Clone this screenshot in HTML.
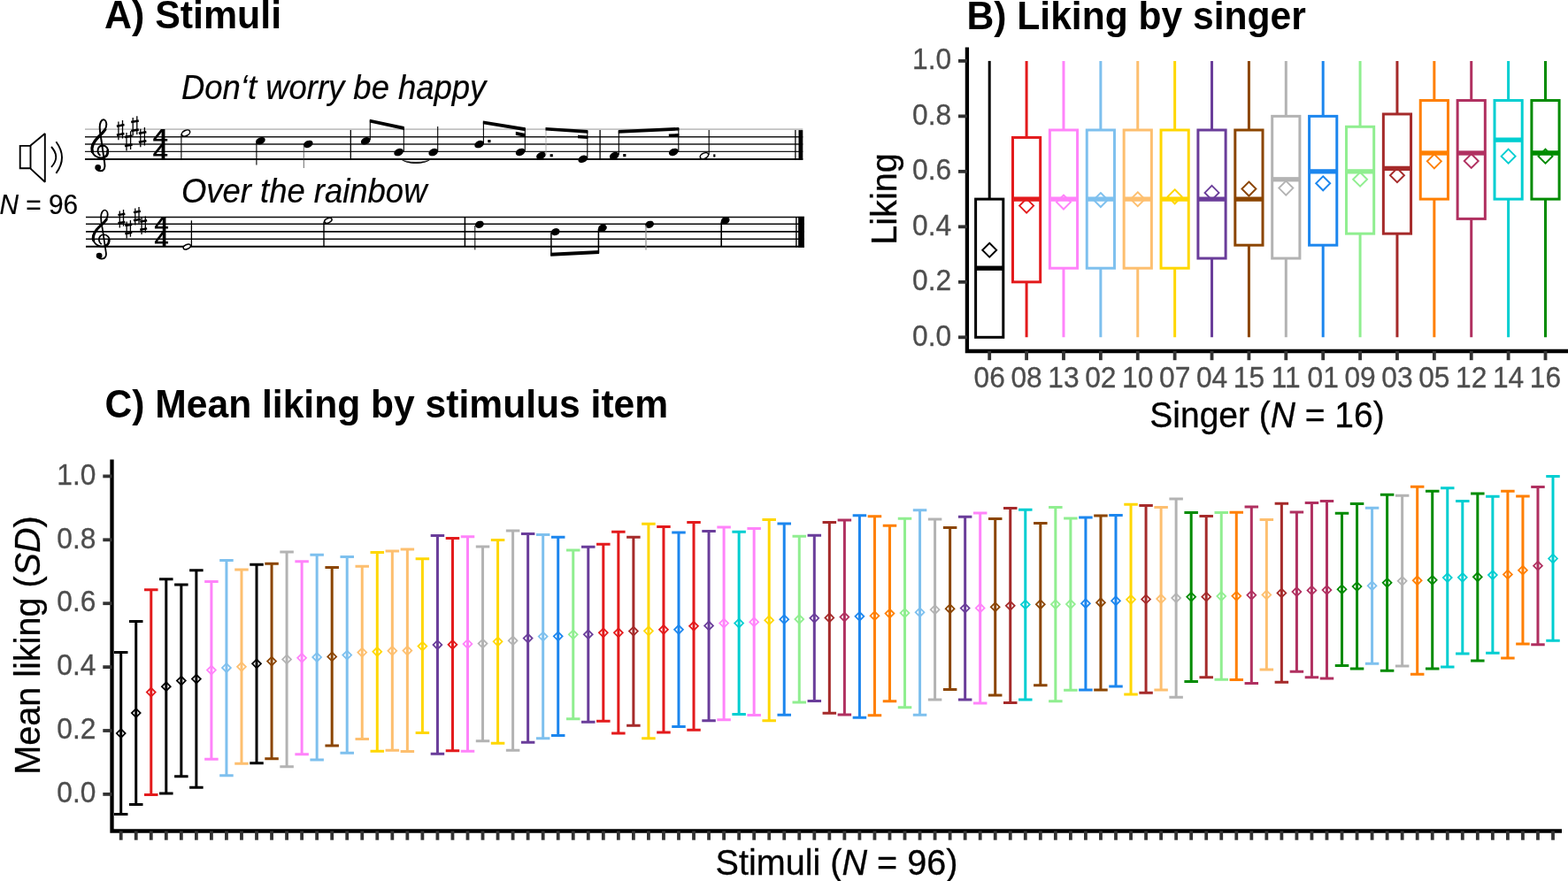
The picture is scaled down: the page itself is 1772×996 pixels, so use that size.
<!DOCTYPE html>
<html lang="en">
<head>
<meta charset="utf-8">
<title>Stimuli and liking ratings</title>
<style>
html,body{margin:0;padding:0;background:#fff;}
body{width:1772px;height:996px;overflow:hidden;}
svg{display:block;}
svg text{font-family:"Liberation Sans", Arial, Helvetica, sans-serif;}
</style>
</head>
<body>
<svg width="1772" height="996" viewBox="0 0 1772 996">
<rect width="1772" height="996" fill="#fff"/>
<g id="panelC">
<path d="M128.95 737.39H144.45M136.70 737.39V920.38M128.95 920.38H144.45" stroke="#000000" stroke-width="3.0" fill="none"/>
<path d="M136.70 824.19L141.60 829.09L136.70 833.99L131.80 829.09Z" stroke="#000000" stroke-width="1.8" fill="none"/>
<path d="M145.98 702.39H161.48M153.73 702.39V909.40M145.98 909.40H161.48" stroke="#000000" stroke-width="3.0" fill="none"/>
<path d="M153.73 801.21L158.63 806.11L153.73 811.01L148.83 806.11Z" stroke="#000000" stroke-width="1.8" fill="none"/>
<path d="M163.02 666.63H178.52M170.77 666.63V898.41M163.02 898.41H178.52" stroke="#E31A1C" stroke-width="3.0" fill="none"/>
<path d="M170.77 777.64L175.67 782.54L170.77 787.44L165.87 782.54Z" stroke="#E31A1C" stroke-width="1.8" fill="none"/>
<path d="M180.05 654.65H195.55M187.80 654.65V897.01M180.05 897.01H195.55" stroke="#000000" stroke-width="3.0" fill="none"/>
<path d="M187.80 771.25L192.70 776.15L187.80 781.05L182.90 776.15Z" stroke="#000000" stroke-width="1.8" fill="none"/>
<path d="M197.09 661.04H212.59M204.84 661.04V877.63M197.09 877.63H212.59" stroke="#000000" stroke-width="3.0" fill="none"/>
<path d="M204.84 764.65L209.74 769.55L204.84 774.45L199.94 769.55Z" stroke="#000000" stroke-width="1.8" fill="none"/>
<path d="M214.12 644.66H229.62M221.87 644.66V890.22M214.12 890.22H229.62" stroke="#000000" stroke-width="3.0" fill="none"/>
<path d="M221.87 762.66L226.77 767.56L221.87 772.46L216.97 767.56Z" stroke="#000000" stroke-width="1.8" fill="none"/>
<path d="M231.16 657.44H246.66M238.91 657.44V858.25M231.16 858.25H246.66" stroke="#FF83FA" stroke-width="3.0" fill="none"/>
<path d="M238.91 752.67L243.81 757.57L238.91 762.47L234.01 757.57Z" stroke="#FF83FA" stroke-width="1.8" fill="none"/>
<path d="M248.19 633.47H263.69M255.94 633.47V876.83M248.19 876.83H263.69" stroke="#7EC0EE" stroke-width="3.0" fill="none"/>
<path d="M255.94 750.07L260.84 754.97L255.94 759.87L251.04 754.97Z" stroke="#7EC0EE" stroke-width="1.8" fill="none"/>
<path d="M265.23 644.06H280.73M272.98 644.06V863.25M265.23 863.25H280.73" stroke="#FDBF6F" stroke-width="3.0" fill="none"/>
<path d="M272.98 748.87L277.88 753.77L272.98 758.67L268.08 753.77Z" stroke="#FDBF6F" stroke-width="1.8" fill="none"/>
<path d="M282.26 638.27H297.76M290.01 638.27V862.85M282.26 862.85H297.76" stroke="#000000" stroke-width="3.0" fill="none"/>
<path d="M290.01 745.47L294.91 750.37L290.01 755.27L285.11 750.37Z" stroke="#000000" stroke-width="1.8" fill="none"/>
<path d="M299.30 637.27H314.80M307.05 637.27V857.65M299.30 857.65H314.80" stroke="#8B4500" stroke-width="3.0" fill="none"/>
<path d="M307.05 742.68L311.95 747.58L307.05 752.48L302.15 747.58Z" stroke="#8B4500" stroke-width="1.8" fill="none"/>
<path d="M316.33 623.88H331.83M324.08 623.88V866.84M316.33 866.84H331.83" stroke="#B3B3B3" stroke-width="3.0" fill="none"/>
<path d="M324.08 740.48L328.98 745.38L324.08 750.28L319.18 745.38Z" stroke="#B3B3B3" stroke-width="1.8" fill="none"/>
<path d="M333.37 634.87H348.87M341.12 634.87V852.86M333.37 852.86H348.87" stroke="#FF83FA" stroke-width="3.0" fill="none"/>
<path d="M341.12 738.88L346.02 743.78L341.12 748.68L336.22 743.78Z" stroke="#FF83FA" stroke-width="1.8" fill="none"/>
<path d="M350.40 627.28H365.90M358.15 627.28V859.05M350.40 859.05H365.90" stroke="#7EC0EE" stroke-width="3.0" fill="none"/>
<path d="M358.15 738.08L363.05 742.98L358.15 747.88L353.25 742.98Z" stroke="#7EC0EE" stroke-width="1.8" fill="none"/>
<path d="M367.44 641.46H382.94M375.19 641.46V843.07M367.44 843.07H382.94" stroke="#8B4500" stroke-width="3.0" fill="none"/>
<path d="M375.19 737.48L380.09 742.38L375.19 747.28L370.29 742.38Z" stroke="#8B4500" stroke-width="1.8" fill="none"/>
<path d="M384.47 629.48H399.97M392.22 629.48V851.26M384.47 851.26H399.97" stroke="#7EC0EE" stroke-width="3.0" fill="none"/>
<path d="M392.22 735.69L397.12 740.59L392.22 745.49L387.32 740.59Z" stroke="#7EC0EE" stroke-width="1.8" fill="none"/>
<path d="M401.51 640.26H417.01M409.26 640.26V835.48M401.51 835.48H417.01" stroke="#FDBF6F" stroke-width="3.0" fill="none"/>
<path d="M409.26 732.69L414.16 737.59L409.26 742.49L404.36 737.59Z" stroke="#FDBF6F" stroke-width="1.8" fill="none"/>
<path d="M418.54 624.48H434.04M426.29 624.48V849.26M418.54 849.26H434.04" stroke="#FFD700" stroke-width="3.0" fill="none"/>
<path d="M426.29 731.89L431.19 736.79L426.29 741.69L421.39 736.79Z" stroke="#FFD700" stroke-width="1.8" fill="none"/>
<path d="M435.58 623.08H451.08M443.33 623.08V848.26M435.58 848.26H451.08" stroke="#FDBF6F" stroke-width="3.0" fill="none"/>
<path d="M443.33 730.89L448.23 735.79L443.33 740.69L438.43 735.79Z" stroke="#FDBF6F" stroke-width="1.8" fill="none"/>
<path d="M452.61 620.89H468.11M460.36 620.89V849.42M452.61 849.42H468.11" stroke="#FDBF6F" stroke-width="3.0" fill="none"/>
<path d="M460.36 730.65L465.26 735.55L460.36 740.45L455.46 735.55Z" stroke="#FDBF6F" stroke-width="1.8" fill="none"/>
<path d="M469.64 631.87H485.14M477.39 631.87V828.44M469.64 828.44H485.14" stroke="#FFD700" stroke-width="3.0" fill="none"/>
<path d="M477.39 725.65L482.29 730.55L477.39 735.45L472.49 730.55Z" stroke="#FFD700" stroke-width="1.8" fill="none"/>
<path d="M486.68 605.50H502.18M494.43 605.50V852.22M486.68 852.22H502.18" stroke="#6A3D9A" stroke-width="3.0" fill="none"/>
<path d="M494.43 724.06L499.33 728.96L494.43 733.86L489.53 728.96Z" stroke="#6A3D9A" stroke-width="1.8" fill="none"/>
<path d="M503.71 608.50H519.21M511.46 608.50V848.82M503.71 848.82H519.21" stroke="#E31A1C" stroke-width="3.0" fill="none"/>
<path d="M511.46 723.86L516.36 728.76L511.46 733.66L506.56 728.76Z" stroke="#E31A1C" stroke-width="1.8" fill="none"/>
<path d="M520.75 606.70H536.25M528.50 606.70V849.22M520.75 849.22H536.25" stroke="#FF83FA" stroke-width="3.0" fill="none"/>
<path d="M528.50 723.06L533.40 727.96L528.50 732.86L523.60 727.96Z" stroke="#FF83FA" stroke-width="1.8" fill="none"/>
<path d="M537.78 617.89H553.28M545.53 617.89V837.83M537.78 837.83H553.28" stroke="#B3B3B3" stroke-width="3.0" fill="none"/>
<path d="M545.53 722.66L550.43 727.56L545.53 732.46L540.63 727.56Z" stroke="#B3B3B3" stroke-width="1.8" fill="none"/>
<path d="M554.82 610.50H570.32M562.57 610.50V840.23M554.82 840.23H570.32" stroke="#FFD700" stroke-width="3.0" fill="none"/>
<path d="M562.57 720.46L567.47 725.36L562.57 730.26L557.67 725.36Z" stroke="#FFD700" stroke-width="1.8" fill="none"/>
<path d="M571.85 599.91H587.35M579.60 599.91V848.22M571.85 848.22H587.35" stroke="#B3B3B3" stroke-width="3.0" fill="none"/>
<path d="M579.60 719.46L584.50 724.36L579.60 729.26L574.70 724.36Z" stroke="#B3B3B3" stroke-width="1.8" fill="none"/>
<path d="M588.89 603.51H604.39M596.64 603.51V839.23M588.89 839.23H604.39" stroke="#6A3D9A" stroke-width="3.0" fill="none"/>
<path d="M596.64 716.66L601.54 721.56L596.64 726.46L591.74 721.56Z" stroke="#6A3D9A" stroke-width="1.8" fill="none"/>
<path d="M605.92 604.50H621.42M613.67 604.50V834.84M605.92 834.84H621.42" stroke="#7EC0EE" stroke-width="3.0" fill="none"/>
<path d="M613.67 714.67L618.57 719.57L613.67 724.47L608.77 719.57Z" stroke="#7EC0EE" stroke-width="1.8" fill="none"/>
<path d="M622.96 607.30H638.46M630.71 607.30V831.44M622.96 831.44H638.46" stroke="#1C86EE" stroke-width="3.0" fill="none"/>
<path d="M630.71 714.47L635.61 719.37L630.71 724.27L625.81 719.37Z" stroke="#1C86EE" stroke-width="1.8" fill="none"/>
<path d="M639.99 622.08H655.49M647.74 622.08V812.66M639.99 812.66H655.49" stroke="#90EE90" stroke-width="3.0" fill="none"/>
<path d="M647.74 712.47L652.64 717.37L647.74 722.27L642.84 717.37Z" stroke="#90EE90" stroke-width="1.8" fill="none"/>
<path d="M657.03 618.29H672.53M664.78 618.29V816.26M657.03 816.26H672.53" stroke="#6A3D9A" stroke-width="3.0" fill="none"/>
<path d="M664.78 712.27L669.68 717.17L664.78 722.07L659.88 717.17Z" stroke="#6A3D9A" stroke-width="1.8" fill="none"/>
<path d="M674.06 615.29H689.56M681.81 615.29V815.26M674.06 815.26H689.56" stroke="#E31A1C" stroke-width="3.0" fill="none"/>
<path d="M681.81 710.47L686.71 715.37L681.81 720.27L676.91 715.37Z" stroke="#E31A1C" stroke-width="1.8" fill="none"/>
<path d="M691.10 601.31H706.60M698.85 601.31V829.04M691.10 829.04H706.60" stroke="#E31A1C" stroke-width="3.0" fill="none"/>
<path d="M698.85 710.47L703.75 715.37L698.85 720.27L693.95 715.37Z" stroke="#E31A1C" stroke-width="1.8" fill="none"/>
<path d="M708.13 607.30H723.63M715.88 607.30V820.25M708.13 820.25H723.63" stroke="#A52A2A" stroke-width="3.0" fill="none"/>
<path d="M715.88 708.67L720.78 713.57L715.88 718.47L710.98 713.57Z" stroke="#A52A2A" stroke-width="1.8" fill="none"/>
<path d="M725.17 592.32H740.67M732.92 592.32V834.84M725.17 834.84H740.67" stroke="#FFD700" stroke-width="3.0" fill="none"/>
<path d="M732.92 708.47L737.82 713.37L732.92 718.27L728.02 713.37Z" stroke="#FFD700" stroke-width="1.8" fill="none"/>
<path d="M742.20 595.51H757.70M749.95 595.51V828.04M742.20 828.04H757.70" stroke="#E31A1C" stroke-width="3.0" fill="none"/>
<path d="M749.95 706.88L754.85 711.78L749.95 716.68L745.05 711.78Z" stroke="#E31A1C" stroke-width="1.8" fill="none"/>
<path d="M759.24 601.91H774.74M766.99 601.91V821.45M759.24 821.45H774.74" stroke="#1C86EE" stroke-width="3.0" fill="none"/>
<path d="M766.99 706.88L771.89 711.78L766.99 716.68L762.09 711.78Z" stroke="#1C86EE" stroke-width="1.8" fill="none"/>
<path d="M776.27 590.52H791.77M784.02 590.52V825.25M776.27 825.25H791.77" stroke="#E31A1C" stroke-width="3.0" fill="none"/>
<path d="M784.02 702.89L788.92 707.79L784.02 712.69L779.12 707.79Z" stroke="#E31A1C" stroke-width="1.8" fill="none"/>
<path d="M793.30 600.51H808.80M801.05 600.51V814.86M793.30 814.86H808.80" stroke="#6A3D9A" stroke-width="3.0" fill="none"/>
<path d="M801.05 702.49L805.95 707.39L801.05 712.29L796.15 707.39Z" stroke="#6A3D9A" stroke-width="1.8" fill="none"/>
<path d="M810.34 595.91H825.84M818.09 595.91V813.66M810.34 813.66H825.84" stroke="#FF83FA" stroke-width="3.0" fill="none"/>
<path d="M818.09 699.69L822.99 704.59L818.09 709.49L813.19 704.59Z" stroke="#FF83FA" stroke-width="1.8" fill="none"/>
<path d="M827.37 601.31H842.87M835.12 601.31V807.47M827.37 807.47H842.87" stroke="#00CED1" stroke-width="3.0" fill="none"/>
<path d="M835.12 699.69L840.02 704.59L835.12 709.49L830.22 704.59Z" stroke="#00CED1" stroke-width="1.8" fill="none"/>
<path d="M844.41 597.51H859.91M852.16 597.51V808.47M844.41 808.47H859.91" stroke="#FF83FA" stroke-width="3.0" fill="none"/>
<path d="M852.16 698.29L857.06 703.19L852.16 708.09L847.26 703.19Z" stroke="#FF83FA" stroke-width="1.8" fill="none"/>
<path d="M861.44 587.52H876.94M869.19 587.52V814.66M861.44 814.66H876.94" stroke="#FFD700" stroke-width="3.0" fill="none"/>
<path d="M869.19 696.30L874.09 701.20L869.19 706.10L864.29 701.20Z" stroke="#FFD700" stroke-width="1.8" fill="none"/>
<path d="M878.48 591.92H893.98M886.23 591.92V808.27M878.48 808.27H893.98" stroke="#1C86EE" stroke-width="3.0" fill="none"/>
<path d="M886.23 695.30L891.13 700.20L886.23 705.10L881.33 700.20Z" stroke="#1C86EE" stroke-width="1.8" fill="none"/>
<path d="M895.51 606.30H911.01M903.26 606.30V794.08M895.51 794.08H911.01" stroke="#90EE90" stroke-width="3.0" fill="none"/>
<path d="M903.26 695.10L908.16 700.00L903.26 704.90L898.36 700.00Z" stroke="#90EE90" stroke-width="1.8" fill="none"/>
<path d="M912.55 605.30H928.05M920.30 605.30V792.48M912.55 792.48H928.05" stroke="#6A3D9A" stroke-width="3.0" fill="none"/>
<path d="M920.30 693.90L925.20 698.80L920.30 703.70L915.40 698.80Z" stroke="#6A3D9A" stroke-width="1.8" fill="none"/>
<path d="M929.58 590.52H945.08M937.33 590.52V806.27M929.58 806.27H945.08" stroke="#A52A2A" stroke-width="3.0" fill="none"/>
<path d="M937.33 693.50L942.23 698.40L937.33 703.30L932.43 698.40Z" stroke="#A52A2A" stroke-width="1.8" fill="none"/>
<path d="M946.62 588.12H962.12M954.37 588.12V808.07M946.62 808.07H962.12" stroke="#B03060" stroke-width="3.0" fill="none"/>
<path d="M954.37 692.70L959.27 697.60L954.37 702.50L949.47 697.60Z" stroke="#B03060" stroke-width="1.8" fill="none"/>
<path d="M963.65 582.73H979.15M971.40 582.73V811.26M963.65 811.26H979.15" stroke="#1C86EE" stroke-width="3.0" fill="none"/>
<path d="M971.40 691.90L976.30 696.80L971.40 701.70L966.50 696.80Z" stroke="#1C86EE" stroke-width="1.8" fill="none"/>
<path d="M980.69 583.73H996.19M988.44 583.73V808.87M980.69 808.87H996.19" stroke="#FF7F00" stroke-width="3.0" fill="none"/>
<path d="M988.44 691.30L993.34 696.20L988.44 701.10L983.54 696.20Z" stroke="#FF7F00" stroke-width="1.8" fill="none"/>
<path d="M997.72 594.32H1013.22M1005.47 594.32V792.68M997.72 792.68H1013.22" stroke="#FF7F00" stroke-width="3.0" fill="none"/>
<path d="M1005.47 688.70L1010.37 693.60L1005.47 698.50L1000.57 693.60Z" stroke="#FF7F00" stroke-width="1.8" fill="none"/>
<path d="M1014.76 586.33H1030.26M1022.51 586.33V799.68M1014.76 799.68H1030.26" stroke="#90EE90" stroke-width="3.0" fill="none"/>
<path d="M1022.51 688.10L1027.41 693.00L1022.51 697.90L1017.61 693.00Z" stroke="#90EE90" stroke-width="1.8" fill="none"/>
<path d="M1031.79 576.74H1047.29M1039.54 576.74V808.27M1031.79 808.27H1047.29" stroke="#7EC0EE" stroke-width="3.0" fill="none"/>
<path d="M1039.54 687.31L1044.44 692.21L1039.54 697.11L1034.64 692.21Z" stroke="#7EC0EE" stroke-width="1.8" fill="none"/>
<path d="M1048.83 586.92H1064.33M1056.58 586.92V790.89M1048.83 790.89H1064.33" stroke="#B3B3B3" stroke-width="3.0" fill="none"/>
<path d="M1056.58 684.31L1061.48 689.21L1056.58 694.11L1051.68 689.21Z" stroke="#B3B3B3" stroke-width="1.8" fill="none"/>
<path d="M1065.86 596.51H1081.36M1073.61 596.51V779.50M1065.86 779.50H1081.36" stroke="#8B4500" stroke-width="3.0" fill="none"/>
<path d="M1073.61 683.31L1078.51 688.21L1073.61 693.11L1068.71 688.21Z" stroke="#8B4500" stroke-width="1.8" fill="none"/>
<path d="M1082.90 584.33H1098.40M1090.65 584.33V791.09M1082.90 791.09H1098.40" stroke="#6A3D9A" stroke-width="3.0" fill="none"/>
<path d="M1090.65 682.71L1095.55 687.61L1090.65 692.51L1085.75 687.61Z" stroke="#6A3D9A" stroke-width="1.8" fill="none"/>
<path d="M1099.93 579.93H1115.43M1107.68 579.93V795.08M1099.93 795.08H1115.43" stroke="#FF83FA" stroke-width="3.0" fill="none"/>
<path d="M1107.68 682.51L1112.58 687.41L1107.68 692.31L1102.78 687.41Z" stroke="#FF83FA" stroke-width="1.8" fill="none"/>
<path d="M1116.96 586.52H1132.46M1124.71 586.52V786.09M1116.96 786.09H1132.46" stroke="#8B4500" stroke-width="3.0" fill="none"/>
<path d="M1124.71 681.31L1129.61 686.21L1124.71 691.11L1119.81 686.21Z" stroke="#8B4500" stroke-width="1.8" fill="none"/>
<path d="M1134.00 574.54H1149.50M1141.75 574.54V794.48M1134.00 794.48H1149.50" stroke="#A52A2A" stroke-width="3.0" fill="none"/>
<path d="M1141.75 679.91L1146.65 684.81L1141.75 689.71L1136.85 684.81Z" stroke="#A52A2A" stroke-width="1.8" fill="none"/>
<path d="M1151.03 576.34H1166.53M1158.78 576.34V790.89M1151.03 790.89H1166.53" stroke="#00CED1" stroke-width="3.0" fill="none"/>
<path d="M1158.78 678.52L1163.68 683.42L1158.78 688.32L1153.88 683.42Z" stroke="#00CED1" stroke-width="1.8" fill="none"/>
<path d="M1168.07 591.52H1183.57M1175.82 591.52V774.70M1168.07 774.70H1183.57" stroke="#8B4500" stroke-width="3.0" fill="none"/>
<path d="M1175.82 678.32L1180.72 683.22L1175.82 688.12L1170.92 683.22Z" stroke="#8B4500" stroke-width="1.8" fill="none"/>
<path d="M1185.10 573.54H1200.60M1192.85 573.54V792.68M1185.10 792.68H1200.60" stroke="#90EE90" stroke-width="3.0" fill="none"/>
<path d="M1192.85 678.32L1197.75 683.22L1192.85 688.12L1187.95 683.22Z" stroke="#90EE90" stroke-width="1.8" fill="none"/>
<path d="M1202.14 585.93H1217.64M1209.89 585.93V780.30M1202.14 780.30H1217.64" stroke="#90EE90" stroke-width="3.0" fill="none"/>
<path d="M1209.89 678.12L1214.79 683.02L1209.89 687.92L1204.99 683.02Z" stroke="#90EE90" stroke-width="1.8" fill="none"/>
<path d="M1219.17 584.93H1234.67M1226.92 584.93V780.10M1219.17 780.10H1234.67" stroke="#1C86EE" stroke-width="3.0" fill="none"/>
<path d="M1226.92 677.32L1231.82 682.22L1226.92 687.12L1222.02 682.22Z" stroke="#1C86EE" stroke-width="1.8" fill="none"/>
<path d="M1236.21 582.93H1251.71M1243.96 582.93V780.10M1236.21 780.10H1251.71" stroke="#8B4500" stroke-width="3.0" fill="none"/>
<path d="M1243.96 676.32L1248.86 681.22L1243.96 686.12L1239.06 681.22Z" stroke="#8B4500" stroke-width="1.8" fill="none"/>
<path d="M1253.24 582.53H1268.74M1260.99 582.53V775.90M1253.24 775.90H1268.74" stroke="#1C86EE" stroke-width="3.0" fill="none"/>
<path d="M1260.99 674.32L1265.89 679.22L1260.99 684.12L1256.09 679.22Z" stroke="#1C86EE" stroke-width="1.8" fill="none"/>
<path d="M1270.28 570.34H1285.78M1278.03 570.34V785.09M1270.28 785.09H1285.78" stroke="#FFD700" stroke-width="3.0" fill="none"/>
<path d="M1278.03 672.92L1282.93 677.82L1278.03 682.72L1273.13 677.82Z" stroke="#FFD700" stroke-width="1.8" fill="none"/>
<path d="M1287.31 571.54H1302.81M1295.06 571.54V783.29M1287.31 783.29H1302.81" stroke="#A52A2A" stroke-width="3.0" fill="none"/>
<path d="M1295.06 672.52L1299.96 677.42L1295.06 682.32L1290.16 677.42Z" stroke="#A52A2A" stroke-width="1.8" fill="none"/>
<path d="M1304.35 573.54H1319.85M1312.10 573.54V780.10M1304.35 780.10H1319.85" stroke="#FDBF6F" stroke-width="3.0" fill="none"/>
<path d="M1312.10 672.12L1317.00 677.02L1312.10 681.92L1307.20 677.02Z" stroke="#FDBF6F" stroke-width="1.8" fill="none"/>
<path d="M1321.38 563.95H1336.88M1329.13 563.95V788.29M1321.38 788.29H1336.88" stroke="#B3B3B3" stroke-width="3.0" fill="none"/>
<path d="M1329.13 671.12L1334.03 676.02L1329.13 680.92L1324.23 676.02Z" stroke="#B3B3B3" stroke-width="1.8" fill="none"/>
<path d="M1338.42 579.53H1353.92M1346.17 579.53V770.51M1338.42 770.51H1353.92" stroke="#008B00" stroke-width="3.0" fill="none"/>
<path d="M1346.17 669.93L1351.07 674.83L1346.17 679.73L1341.27 674.83Z" stroke="#008B00" stroke-width="1.8" fill="none"/>
<path d="M1355.45 583.53H1370.95M1363.20 583.53V765.71M1355.45 765.71H1370.95" stroke="#A52A2A" stroke-width="3.0" fill="none"/>
<path d="M1363.20 669.73L1368.10 674.63L1363.20 679.53L1358.30 674.63Z" stroke="#A52A2A" stroke-width="1.8" fill="none"/>
<path d="M1372.49 579.53H1387.99M1380.24 579.53V768.31M1372.49 768.31H1387.99" stroke="#90EE90" stroke-width="3.0" fill="none"/>
<path d="M1380.24 669.13L1385.14 674.03L1380.24 678.93L1375.34 674.03Z" stroke="#90EE90" stroke-width="1.8" fill="none"/>
<path d="M1389.52 579.33H1405.02M1397.27 579.33V768.51M1389.52 768.51H1405.02" stroke="#FF7F00" stroke-width="3.0" fill="none"/>
<path d="M1397.27 668.93L1402.17 673.83L1397.27 678.73L1392.37 673.83Z" stroke="#FF7F00" stroke-width="1.8" fill="none"/>
<path d="M1406.56 572.94H1422.06M1414.31 572.94V772.51M1406.56 772.51H1422.06" stroke="#B03060" stroke-width="3.0" fill="none"/>
<path d="M1414.31 667.93L1419.21 672.83L1414.31 677.73L1409.41 672.83Z" stroke="#B03060" stroke-width="1.8" fill="none"/>
<path d="M1423.59 587.52H1439.09M1431.34 587.52V757.12M1423.59 757.12H1439.09" stroke="#FDBF6F" stroke-width="3.0" fill="none"/>
<path d="M1431.34 667.53L1436.24 672.43L1431.34 677.33L1426.44 672.43Z" stroke="#FDBF6F" stroke-width="1.8" fill="none"/>
<path d="M1440.62 569.34H1456.12M1448.37 569.34V771.25M1440.62 771.25H1456.12" stroke="#A52A2A" stroke-width="3.0" fill="none"/>
<path d="M1448.37 665.53L1453.27 670.43L1448.37 675.33L1443.47 670.43Z" stroke="#A52A2A" stroke-width="1.8" fill="none"/>
<path d="M1457.66 578.93H1473.16M1465.41 578.93V759.27M1457.66 759.27H1473.16" stroke="#B03060" stroke-width="3.0" fill="none"/>
<path d="M1465.41 664.13L1470.31 669.03L1465.41 673.93L1460.51 669.03Z" stroke="#B03060" stroke-width="1.8" fill="none"/>
<path d="M1474.69 568.55H1490.19M1482.44 568.55V765.86M1474.69 765.86H1490.19" stroke="#B03060" stroke-width="3.0" fill="none"/>
<path d="M1482.44 662.53L1487.34 667.43L1482.44 672.33L1477.54 667.43Z" stroke="#B03060" stroke-width="1.8" fill="none"/>
<path d="M1491.73 566.55H1507.23M1499.48 566.55V767.06M1491.73 767.06H1507.23" stroke="#B03060" stroke-width="3.0" fill="none"/>
<path d="M1499.48 662.13L1504.38 667.03L1499.48 671.93L1494.58 667.03Z" stroke="#B03060" stroke-width="1.8" fill="none"/>
<path d="M1508.76 580.13H1524.26M1516.51 580.13V752.47M1508.76 752.47H1524.26" stroke="#008B00" stroke-width="3.0" fill="none"/>
<path d="M1516.51 661.33L1521.41 666.23L1516.51 671.13L1511.61 666.23Z" stroke="#008B00" stroke-width="1.8" fill="none"/>
<path d="M1525.80 569.54H1541.30M1533.55 569.54V756.07M1525.80 756.07H1541.30" stroke="#008B00" stroke-width="3.0" fill="none"/>
<path d="M1533.55 658.14L1538.45 663.04L1533.55 667.94L1528.65 663.04Z" stroke="#008B00" stroke-width="1.8" fill="none"/>
<path d="M1542.83 574.14H1558.33M1550.58 574.14V750.28M1542.83 750.28H1558.33" stroke="#7EC0EE" stroke-width="3.0" fill="none"/>
<path d="M1550.58 657.34L1555.48 662.24L1550.58 667.14L1545.68 662.24Z" stroke="#7EC0EE" stroke-width="1.8" fill="none"/>
<path d="M1559.87 559.16H1575.37M1567.62 559.16V758.27M1559.87 758.27H1575.37" stroke="#008B00" stroke-width="3.0" fill="none"/>
<path d="M1567.62 653.94L1572.52 658.84L1567.62 663.74L1562.72 658.84Z" stroke="#008B00" stroke-width="1.8" fill="none"/>
<path d="M1576.90 560.15H1592.40M1584.65 560.15V753.07M1576.90 753.07H1592.40" stroke="#B3B3B3" stroke-width="3.0" fill="none"/>
<path d="M1584.65 651.95L1589.55 656.85L1584.65 661.75L1579.75 656.85Z" stroke="#B3B3B3" stroke-width="1.8" fill="none"/>
<path d="M1593.94 550.17H1609.44M1601.69 550.17V762.26M1593.94 762.26H1609.44" stroke="#FF7F00" stroke-width="3.0" fill="none"/>
<path d="M1601.69 651.35L1606.59 656.25L1601.69 661.15L1596.79 656.25Z" stroke="#FF7F00" stroke-width="1.8" fill="none"/>
<path d="M1610.97 555.36H1626.47M1618.72 555.36V756.07M1610.97 756.07H1626.47" stroke="#008B00" stroke-width="3.0" fill="none"/>
<path d="M1618.72 650.95L1623.62 655.85L1618.72 660.75L1613.82 655.85Z" stroke="#008B00" stroke-width="1.8" fill="none"/>
<path d="M1628.01 551.76H1643.51M1635.76 551.76V754.07M1628.01 754.07H1643.51" stroke="#00CED1" stroke-width="3.0" fill="none"/>
<path d="M1635.76 648.15L1640.66 653.05L1635.76 657.95L1630.86 653.05Z" stroke="#00CED1" stroke-width="1.8" fill="none"/>
<path d="M1645.04 566.55H1660.54M1652.79 566.55V739.09M1645.04 739.09H1660.54" stroke="#00CED1" stroke-width="3.0" fill="none"/>
<path d="M1652.79 647.95L1657.69 652.85L1652.79 657.75L1647.89 652.85Z" stroke="#00CED1" stroke-width="1.8" fill="none"/>
<path d="M1662.08 557.96H1677.58M1669.83 557.96V747.08M1662.08 747.08H1677.58" stroke="#008B00" stroke-width="3.0" fill="none"/>
<path d="M1669.83 647.35L1674.73 652.25L1669.83 657.15L1664.93 652.25Z" stroke="#008B00" stroke-width="1.8" fill="none"/>
<path d="M1679.11 561.35H1694.61M1686.86 561.35V738.29M1679.11 738.29H1694.61" stroke="#00CED1" stroke-width="3.0" fill="none"/>
<path d="M1686.86 645.15L1691.76 650.05L1686.86 654.95L1681.96 650.05Z" stroke="#00CED1" stroke-width="1.8" fill="none"/>
<path d="M1696.15 555.16H1711.65M1703.90 555.16V744.08M1696.15 744.08H1711.65" stroke="#FF7F00" stroke-width="3.0" fill="none"/>
<path d="M1703.90 644.55L1708.80 649.45L1703.90 654.35L1699.00 649.45Z" stroke="#FF7F00" stroke-width="1.8" fill="none"/>
<path d="M1713.18 560.95H1728.68M1720.93 560.95V728.10M1713.18 728.10H1728.68" stroke="#FF7F00" stroke-width="3.0" fill="none"/>
<path d="M1720.93 639.76L1725.83 644.66L1720.93 649.56L1716.03 644.66Z" stroke="#FF7F00" stroke-width="1.8" fill="none"/>
<path d="M1730.22 550.57H1745.72M1737.97 550.57V728.70M1730.22 728.70H1745.72" stroke="#B03060" stroke-width="3.0" fill="none"/>
<path d="M1737.97 634.76L1742.87 639.66L1737.97 644.56L1733.07 639.66Z" stroke="#B03060" stroke-width="1.8" fill="none"/>
<path d="M1747.25 538.58H1762.75M1755.00 538.58V724.30M1747.25 724.30H1762.75" stroke="#00CED1" stroke-width="3.0" fill="none"/>
<path d="M1755.00 626.57L1759.90 631.47L1755.00 636.37L1750.10 631.47Z" stroke="#00CED1" stroke-width="1.8" fill="none"/>
<path d="M126.5 519.6V941.65M124.35 939.5H1765" stroke="#000" stroke-width="4.3" fill="none"/>
<path d="M116.3 897.90H126.50" stroke="#333" stroke-width="3.8"/>
<text transform="translate(108.4 907.1) scale(1 1.04)" text-anchor="end" font-size="31.7" fill="#4D4D4D" stroke="#4D4D4D" stroke-width="0.3">0.0</text>
<path d="M116.3 826.00H126.50" stroke="#333" stroke-width="3.8"/>
<text transform="translate(108.4 835.2) scale(1 1.04)" text-anchor="end" font-size="31.7" fill="#4D4D4D" stroke="#4D4D4D" stroke-width="0.3">0.2</text>
<path d="M116.3 754.10H126.50" stroke="#333" stroke-width="3.8"/>
<text transform="translate(108.4 763.3) scale(1 1.04)" text-anchor="end" font-size="31.7" fill="#4D4D4D" stroke="#4D4D4D" stroke-width="0.3">0.4</text>
<path d="M116.3 682.20H126.50" stroke="#333" stroke-width="3.8"/>
<text transform="translate(108.4 691.4) scale(1 1.04)" text-anchor="end" font-size="31.7" fill="#4D4D4D" stroke="#4D4D4D" stroke-width="0.3">0.6</text>
<path d="M116.3 610.30H126.50" stroke="#333" stroke-width="3.8"/>
<text transform="translate(108.4 619.5) scale(1 1.04)" text-anchor="end" font-size="31.7" fill="#4D4D4D" stroke="#4D4D4D" stroke-width="0.3">0.8</text>
<path d="M116.3 538.40H126.50" stroke="#333" stroke-width="3.8"/>
<text transform="translate(108.4 547.6) scale(1 1.04)" text-anchor="end" font-size="31.7" fill="#4D4D4D" stroke="#4D4D4D" stroke-width="0.3">1.0</text>
<path d="M136.70 939.50V949.7" stroke="#333" stroke-width="3.8"/>
<path d="M153.73 939.50V949.7" stroke="#333" stroke-width="3.8"/>
<path d="M170.77 939.50V949.7" stroke="#333" stroke-width="3.8"/>
<path d="M187.80 939.50V949.7" stroke="#333" stroke-width="3.8"/>
<path d="M204.84 939.50V949.7" stroke="#333" stroke-width="3.8"/>
<path d="M221.87 939.50V949.7" stroke="#333" stroke-width="3.8"/>
<path d="M238.91 939.50V949.7" stroke="#333" stroke-width="3.8"/>
<path d="M255.94 939.50V949.7" stroke="#333" stroke-width="3.8"/>
<path d="M272.98 939.50V949.7" stroke="#333" stroke-width="3.8"/>
<path d="M290.01 939.50V949.7" stroke="#333" stroke-width="3.8"/>
<path d="M307.05 939.50V949.7" stroke="#333" stroke-width="3.8"/>
<path d="M324.08 939.50V949.7" stroke="#333" stroke-width="3.8"/>
<path d="M341.12 939.50V949.7" stroke="#333" stroke-width="3.8"/>
<path d="M358.15 939.50V949.7" stroke="#333" stroke-width="3.8"/>
<path d="M375.19 939.50V949.7" stroke="#333" stroke-width="3.8"/>
<path d="M392.22 939.50V949.7" stroke="#333" stroke-width="3.8"/>
<path d="M409.26 939.50V949.7" stroke="#333" stroke-width="3.8"/>
<path d="M426.29 939.50V949.7" stroke="#333" stroke-width="3.8"/>
<path d="M443.33 939.50V949.7" stroke="#333" stroke-width="3.8"/>
<path d="M460.36 939.50V949.7" stroke="#333" stroke-width="3.8"/>
<path d="M477.39 939.50V949.7" stroke="#333" stroke-width="3.8"/>
<path d="M494.43 939.50V949.7" stroke="#333" stroke-width="3.8"/>
<path d="M511.46 939.50V949.7" stroke="#333" stroke-width="3.8"/>
<path d="M528.50 939.50V949.7" stroke="#333" stroke-width="3.8"/>
<path d="M545.53 939.50V949.7" stroke="#333" stroke-width="3.8"/>
<path d="M562.57 939.50V949.7" stroke="#333" stroke-width="3.8"/>
<path d="M579.60 939.50V949.7" stroke="#333" stroke-width="3.8"/>
<path d="M596.64 939.50V949.7" stroke="#333" stroke-width="3.8"/>
<path d="M613.67 939.50V949.7" stroke="#333" stroke-width="3.8"/>
<path d="M630.71 939.50V949.7" stroke="#333" stroke-width="3.8"/>
<path d="M647.74 939.50V949.7" stroke="#333" stroke-width="3.8"/>
<path d="M664.78 939.50V949.7" stroke="#333" stroke-width="3.8"/>
<path d="M681.81 939.50V949.7" stroke="#333" stroke-width="3.8"/>
<path d="M698.85 939.50V949.7" stroke="#333" stroke-width="3.8"/>
<path d="M715.88 939.50V949.7" stroke="#333" stroke-width="3.8"/>
<path d="M732.92 939.50V949.7" stroke="#333" stroke-width="3.8"/>
<path d="M749.95 939.50V949.7" stroke="#333" stroke-width="3.8"/>
<path d="M766.99 939.50V949.7" stroke="#333" stroke-width="3.8"/>
<path d="M784.02 939.50V949.7" stroke="#333" stroke-width="3.8"/>
<path d="M801.05 939.50V949.7" stroke="#333" stroke-width="3.8"/>
<path d="M818.09 939.50V949.7" stroke="#333" stroke-width="3.8"/>
<path d="M835.12 939.50V949.7" stroke="#333" stroke-width="3.8"/>
<path d="M852.16 939.50V949.7" stroke="#333" stroke-width="3.8"/>
<path d="M869.19 939.50V949.7" stroke="#333" stroke-width="3.8"/>
<path d="M886.23 939.50V949.7" stroke="#333" stroke-width="3.8"/>
<path d="M903.26 939.50V949.7" stroke="#333" stroke-width="3.8"/>
<path d="M920.30 939.50V949.7" stroke="#333" stroke-width="3.8"/>
<path d="M937.33 939.50V949.7" stroke="#333" stroke-width="3.8"/>
<path d="M954.37 939.50V949.7" stroke="#333" stroke-width="3.8"/>
<path d="M971.40 939.50V949.7" stroke="#333" stroke-width="3.8"/>
<path d="M988.44 939.50V949.7" stroke="#333" stroke-width="3.8"/>
<path d="M1005.47 939.50V949.7" stroke="#333" stroke-width="3.8"/>
<path d="M1022.51 939.50V949.7" stroke="#333" stroke-width="3.8"/>
<path d="M1039.54 939.50V949.7" stroke="#333" stroke-width="3.8"/>
<path d="M1056.58 939.50V949.7" stroke="#333" stroke-width="3.8"/>
<path d="M1073.61 939.50V949.7" stroke="#333" stroke-width="3.8"/>
<path d="M1090.65 939.50V949.7" stroke="#333" stroke-width="3.8"/>
<path d="M1107.68 939.50V949.7" stroke="#333" stroke-width="3.8"/>
<path d="M1124.71 939.50V949.7" stroke="#333" stroke-width="3.8"/>
<path d="M1141.75 939.50V949.7" stroke="#333" stroke-width="3.8"/>
<path d="M1158.78 939.50V949.7" stroke="#333" stroke-width="3.8"/>
<path d="M1175.82 939.50V949.7" stroke="#333" stroke-width="3.8"/>
<path d="M1192.85 939.50V949.7" stroke="#333" stroke-width="3.8"/>
<path d="M1209.89 939.50V949.7" stroke="#333" stroke-width="3.8"/>
<path d="M1226.92 939.50V949.7" stroke="#333" stroke-width="3.8"/>
<path d="M1243.96 939.50V949.7" stroke="#333" stroke-width="3.8"/>
<path d="M1260.99 939.50V949.7" stroke="#333" stroke-width="3.8"/>
<path d="M1278.03 939.50V949.7" stroke="#333" stroke-width="3.8"/>
<path d="M1295.06 939.50V949.7" stroke="#333" stroke-width="3.8"/>
<path d="M1312.10 939.50V949.7" stroke="#333" stroke-width="3.8"/>
<path d="M1329.13 939.50V949.7" stroke="#333" stroke-width="3.8"/>
<path d="M1346.17 939.50V949.7" stroke="#333" stroke-width="3.8"/>
<path d="M1363.20 939.50V949.7" stroke="#333" stroke-width="3.8"/>
<path d="M1380.24 939.50V949.7" stroke="#333" stroke-width="3.8"/>
<path d="M1397.27 939.50V949.7" stroke="#333" stroke-width="3.8"/>
<path d="M1414.31 939.50V949.7" stroke="#333" stroke-width="3.8"/>
<path d="M1431.34 939.50V949.7" stroke="#333" stroke-width="3.8"/>
<path d="M1448.37 939.50V949.7" stroke="#333" stroke-width="3.8"/>
<path d="M1465.41 939.50V949.7" stroke="#333" stroke-width="3.8"/>
<path d="M1482.44 939.50V949.7" stroke="#333" stroke-width="3.8"/>
<path d="M1499.48 939.50V949.7" stroke="#333" stroke-width="3.8"/>
<path d="M1516.51 939.50V949.7" stroke="#333" stroke-width="3.8"/>
<path d="M1533.55 939.50V949.7" stroke="#333" stroke-width="3.8"/>
<path d="M1550.58 939.50V949.7" stroke="#333" stroke-width="3.8"/>
<path d="M1567.62 939.50V949.7" stroke="#333" stroke-width="3.8"/>
<path d="M1584.65 939.50V949.7" stroke="#333" stroke-width="3.8"/>
<path d="M1601.69 939.50V949.7" stroke="#333" stroke-width="3.8"/>
<path d="M1618.72 939.50V949.7" stroke="#333" stroke-width="3.8"/>
<path d="M1635.76 939.50V949.7" stroke="#333" stroke-width="3.8"/>
<path d="M1652.79 939.50V949.7" stroke="#333" stroke-width="3.8"/>
<path d="M1669.83 939.50V949.7" stroke="#333" stroke-width="3.8"/>
<path d="M1686.86 939.50V949.7" stroke="#333" stroke-width="3.8"/>
<path d="M1703.90 939.50V949.7" stroke="#333" stroke-width="3.8"/>
<path d="M1720.93 939.50V949.7" stroke="#333" stroke-width="3.8"/>
<path d="M1737.97 939.50V949.7" stroke="#333" stroke-width="3.8"/>
<path d="M1755.00 939.50V949.7" stroke="#333" stroke-width="3.8"/>
<text transform="translate(945.5 988.8) scale(1 1.04)" text-anchor="middle" font-size="39.6" fill="#000" stroke="#000" stroke-width="0.3">Stimuli (<tspan font-style="italic">N</tspan> = 96)</text>
<text transform="translate(45.0 729.5) rotate(-90) scale(1 1.04)" text-anchor="middle" font-size="39.6" fill="#000" stroke="#000" stroke-width="0.3">Mean liking (<tspan font-style="italic">SD</tspan>)</text>
<text transform="translate(118.5 471.8) scale(1 1.04)" font-size="42.6" font-weight="bold" fill="#000">C) Mean liking by stimulus item</text>
</g>
<g id="panelB">
<path d="M1118.20 274.74l8.0 8.0l-8.0 8.0l-8.0 -8.0Z" stroke="#000000" stroke-width="1.9" fill="none"/>
<path d="M1118.20 68.90V225.10M1118.20 381.30V381.30" stroke="#000000" stroke-width="3.0" fill="none"/>
<rect x="1102.60" y="225.10" width="31.2" height="156.20" stroke="#000000" stroke-width="3.0" fill="none"/>
<path d="M1102.60 303.20H1133.80" stroke="#000000" stroke-width="5.3" fill="none"/>
<text transform="translate(1118.2 437.5) scale(1 1.04)" text-anchor="middle" font-size="31.7" fill="#4D4D4D" stroke="#4D4D4D" stroke-width="0.3">06</text>
<path d="M1160.09 224.60l8.0 8.0l-8.0 8.0l-8.0 -8.0Z" stroke="#E31A1C" stroke-width="1.9" fill="none"/>
<path d="M1160.09 68.90V155.43M1160.09 318.82V381.30" stroke="#E31A1C" stroke-width="3.0" fill="none"/>
<rect x="1144.49" y="155.43" width="31.2" height="163.39" stroke="#E31A1C" stroke-width="3.0" fill="none"/>
<path d="M1144.49 225.10H1175.69" stroke="#E31A1C" stroke-width="5.3" fill="none"/>
<text transform="translate(1160.09 437.5) scale(1 1.04)" text-anchor="middle" font-size="31.7" fill="#4D4D4D" stroke="#4D4D4D" stroke-width="0.3">08</text>
<path d="M1201.97 220.54l8.0 8.0l-8.0 8.0l-8.0 -8.0Z" stroke="#FF83FA" stroke-width="1.9" fill="none"/>
<path d="M1201.97 68.90V147.00M1201.97 303.20V381.30" stroke="#FF83FA" stroke-width="3.0" fill="none"/>
<rect x="1186.37" y="147.00" width="31.2" height="156.20" stroke="#FF83FA" stroke-width="3.0" fill="none"/>
<path d="M1186.37 225.10H1217.57" stroke="#FF83FA" stroke-width="5.3" fill="none"/>
<text transform="translate(1201.97 437.5) scale(1 1.04)" text-anchor="middle" font-size="31.7" fill="#4D4D4D" stroke="#4D4D4D" stroke-width="0.3">13</text>
<path d="M1243.86 218.04l8.0 8.0l-8.0 8.0l-8.0 -8.0Z" stroke="#7EC0EE" stroke-width="1.9" fill="none"/>
<path d="M1243.86 68.90V147.00M1243.86 303.20V381.30" stroke="#7EC0EE" stroke-width="3.0" fill="none"/>
<rect x="1228.26" y="147.00" width="31.2" height="156.20" stroke="#7EC0EE" stroke-width="3.0" fill="none"/>
<path d="M1228.26 225.10H1259.46" stroke="#7EC0EE" stroke-width="5.3" fill="none"/>
<text transform="translate(1243.86 437.5) scale(1 1.04)" text-anchor="middle" font-size="31.7" fill="#4D4D4D" stroke="#4D4D4D" stroke-width="0.3">02</text>
<path d="M1285.75 217.26l8.0 8.0l-8.0 8.0l-8.0 -8.0Z" stroke="#FDBF6F" stroke-width="1.9" fill="none"/>
<path d="M1285.75 68.90V147.00M1285.75 303.20V381.30" stroke="#FDBF6F" stroke-width="3.0" fill="none"/>
<rect x="1270.15" y="147.00" width="31.2" height="156.20" stroke="#FDBF6F" stroke-width="3.0" fill="none"/>
<path d="M1270.15 225.10H1301.35" stroke="#FDBF6F" stroke-width="5.3" fill="none"/>
<text transform="translate(1285.75 437.5) scale(1 1.04)" text-anchor="middle" font-size="31.7" fill="#4D4D4D" stroke="#4D4D4D" stroke-width="0.3">10</text>
<path d="M1327.63 214.29l8.0 8.0l-8.0 8.0l-8.0 -8.0Z" stroke="#FFD700" stroke-width="1.9" fill="none"/>
<path d="M1327.63 68.90V147.00M1327.63 303.20V381.30" stroke="#FFD700" stroke-width="3.0" fill="none"/>
<rect x="1312.03" y="147.00" width="31.2" height="156.20" stroke="#FFD700" stroke-width="3.0" fill="none"/>
<path d="M1312.03 225.10H1343.23" stroke="#FFD700" stroke-width="5.3" fill="none"/>
<text transform="translate(1327.63 437.5) scale(1 1.04)" text-anchor="middle" font-size="31.7" fill="#4D4D4D" stroke="#4D4D4D" stroke-width="0.3">07</text>
<path d="M1369.52 209.91l8.0 8.0l-8.0 8.0l-8.0 -8.0Z" stroke="#6A3D9A" stroke-width="1.9" fill="none"/>
<path d="M1369.52 68.90V147.00M1369.52 292.05V381.30" stroke="#6A3D9A" stroke-width="3.0" fill="none"/>
<rect x="1353.92" y="147.00" width="31.2" height="145.05" stroke="#6A3D9A" stroke-width="3.0" fill="none"/>
<path d="M1353.92 225.10H1385.12" stroke="#6A3D9A" stroke-width="5.3" fill="none"/>
<text transform="translate(1369.52 437.5) scale(1 1.04)" text-anchor="middle" font-size="31.7" fill="#4D4D4D" stroke="#4D4D4D" stroke-width="0.3">04</text>
<path d="M1411.41 205.54l8.0 8.0l-8.0 8.0l-8.0 -8.0Z" stroke="#8B4500" stroke-width="1.9" fill="none"/>
<path d="M1411.41 68.90V147.00M1411.41 277.18V381.30" stroke="#8B4500" stroke-width="3.0" fill="none"/>
<rect x="1395.81" y="147.00" width="31.2" height="130.18" stroke="#8B4500" stroke-width="3.0" fill="none"/>
<path d="M1395.81 225.10H1427.01" stroke="#8B4500" stroke-width="5.3" fill="none"/>
<text transform="translate(1411.41 437.5) scale(1 1.04)" text-anchor="middle" font-size="31.7" fill="#4D4D4D" stroke="#4D4D4D" stroke-width="0.3">15</text>
<path d="M1453.29 204.60l8.0 8.0l-8.0 8.0l-8.0 -8.0Z" stroke="#B3B3B3" stroke-width="1.9" fill="none"/>
<path d="M1453.29 68.90V131.38M1453.29 292.05V381.30" stroke="#B3B3B3" stroke-width="3.0" fill="none"/>
<rect x="1437.69" y="131.38" width="31.2" height="160.67" stroke="#B3B3B3" stroke-width="3.0" fill="none"/>
<path d="M1437.69 202.79H1468.89" stroke="#B3B3B3" stroke-width="5.3" fill="none"/>
<text transform="translate(1453.29 437.5) scale(1 1.04)" text-anchor="middle" font-size="31.7" fill="#4D4D4D" stroke="#4D4D4D" stroke-width="0.3">11</text>
<path d="M1495.18 199.29l8.0 8.0l-8.0 8.0l-8.0 -8.0Z" stroke="#1C86EE" stroke-width="1.9" fill="none"/>
<path d="M1495.18 68.90V131.38M1495.18 277.18V381.30" stroke="#1C86EE" stroke-width="3.0" fill="none"/>
<rect x="1479.58" y="131.38" width="31.2" height="145.80" stroke="#1C86EE" stroke-width="3.0" fill="none"/>
<path d="M1479.58 193.86H1510.78" stroke="#1C86EE" stroke-width="5.3" fill="none"/>
<text transform="translate(1495.18 437.5) scale(1 1.04)" text-anchor="middle" font-size="31.7" fill="#4D4D4D" stroke="#4D4D4D" stroke-width="0.3">01</text>
<path d="M1537.07 194.76l8.0 8.0l-8.0 8.0l-8.0 -8.0Z" stroke="#90EE90" stroke-width="1.9" fill="none"/>
<path d="M1537.07 68.90V143.28M1537.07 264.15V381.30" stroke="#90EE90" stroke-width="3.0" fill="none"/>
<rect x="1521.47" y="143.28" width="31.2" height="120.87" stroke="#90EE90" stroke-width="3.0" fill="none"/>
<path d="M1521.47 193.86H1552.67" stroke="#90EE90" stroke-width="5.3" fill="none"/>
<text transform="translate(1537.07 437.5) scale(1 1.04)" text-anchor="middle" font-size="31.7" fill="#4D4D4D" stroke="#4D4D4D" stroke-width="0.3">09</text>
<path d="M1578.95 190.23l8.0 8.0l-8.0 8.0l-8.0 -8.0Z" stroke="#A52A2A" stroke-width="1.9" fill="none"/>
<path d="M1578.95 68.90V128.97M1578.95 264.15V381.30" stroke="#A52A2A" stroke-width="3.0" fill="none"/>
<rect x="1563.35" y="128.97" width="31.2" height="135.18" stroke="#A52A2A" stroke-width="3.0" fill="none"/>
<path d="M1563.35 190.39H1594.55" stroke="#A52A2A" stroke-width="5.3" fill="none"/>
<text transform="translate(1578.95 437.5) scale(1 1.04)" text-anchor="middle" font-size="31.7" fill="#4D4D4D" stroke="#4D4D4D" stroke-width="0.3">03</text>
<path d="M1620.84 174.30l8.0 8.0l-8.0 8.0l-8.0 -8.0Z" stroke="#FF7F00" stroke-width="1.9" fill="none"/>
<path d="M1620.84 68.90V113.54M1620.84 225.10V381.30" stroke="#FF7F00" stroke-width="3.0" fill="none"/>
<rect x="1605.24" y="113.54" width="31.2" height="111.56" stroke="#FF7F00" stroke-width="3.0" fill="none"/>
<path d="M1605.24 173.02H1636.44" stroke="#FF7F00" stroke-width="5.3" fill="none"/>
<text transform="translate(1620.84 437.5) scale(1 1.04)" text-anchor="middle" font-size="31.7" fill="#4D4D4D" stroke="#4D4D4D" stroke-width="0.3">05</text>
<path d="M1662.73 173.99l8.0 8.0l-8.0 8.0l-8.0 -8.0Z" stroke="#B03060" stroke-width="1.9" fill="none"/>
<path d="M1662.73 68.90V113.54M1662.73 247.41V381.30" stroke="#B03060" stroke-width="3.0" fill="none"/>
<rect x="1647.13" y="113.54" width="31.2" height="133.86" stroke="#B03060" stroke-width="3.0" fill="none"/>
<path d="M1647.13 173.02H1678.33" stroke="#B03060" stroke-width="5.3" fill="none"/>
<text transform="translate(1662.73 437.5) scale(1 1.04)" text-anchor="middle" font-size="31.7" fill="#4D4D4D" stroke="#4D4D4D" stroke-width="0.3">12</text>
<path d="M1704.61 168.68l8.0 8.0l-8.0 8.0l-8.0 -8.0Z" stroke="#00CED1" stroke-width="1.9" fill="none"/>
<path d="M1704.61 68.90V113.54M1704.61 225.10V381.30" stroke="#00CED1" stroke-width="3.0" fill="none"/>
<rect x="1689.01" y="113.54" width="31.2" height="111.56" stroke="#00CED1" stroke-width="3.0" fill="none"/>
<path d="M1689.01 158.15H1720.21" stroke="#00CED1" stroke-width="5.3" fill="none"/>
<text transform="translate(1704.61 437.5) scale(1 1.04)" text-anchor="middle" font-size="31.7" fill="#4D4D4D" stroke="#4D4D4D" stroke-width="0.3">14</text>
<path d="M1746.50 168.68l8.0 8.0l-8.0 8.0l-8.0 -8.0Z" stroke="#008B00" stroke-width="1.9" fill="none"/>
<path d="M1746.50 68.90V113.54M1746.50 225.10V381.30" stroke="#008B00" stroke-width="3.0" fill="none"/>
<rect x="1730.90" y="113.54" width="31.2" height="111.56" stroke="#008B00" stroke-width="3.0" fill="none"/>
<path d="M1730.90 173.02H1762.10" stroke="#008B00" stroke-width="5.3" fill="none"/>
<text transform="translate(1746.5 437.5) scale(1 1.04)" text-anchor="middle" font-size="31.7" fill="#4D4D4D" stroke="#4D4D4D" stroke-width="0.3">16</text>
<path d="M1092.9 53.5V399.15M1090.75 397.0H1772" stroke="#000" stroke-width="4.3" fill="none"/>
<path d="M1118.20 397.00V407.2" stroke="#333" stroke-width="3.8"/>
<path d="M1160.09 397.00V407.2" stroke="#333" stroke-width="3.8"/>
<path d="M1201.97 397.00V407.2" stroke="#333" stroke-width="3.8"/>
<path d="M1243.86 397.00V407.2" stroke="#333" stroke-width="3.8"/>
<path d="M1285.75 397.00V407.2" stroke="#333" stroke-width="3.8"/>
<path d="M1327.63 397.00V407.2" stroke="#333" stroke-width="3.8"/>
<path d="M1369.52 397.00V407.2" stroke="#333" stroke-width="3.8"/>
<path d="M1411.41 397.00V407.2" stroke="#333" stroke-width="3.8"/>
<path d="M1453.29 397.00V407.2" stroke="#333" stroke-width="3.8"/>
<path d="M1495.18 397.00V407.2" stroke="#333" stroke-width="3.8"/>
<path d="M1537.07 397.00V407.2" stroke="#333" stroke-width="3.8"/>
<path d="M1578.95 397.00V407.2" stroke="#333" stroke-width="3.8"/>
<path d="M1620.84 397.00V407.2" stroke="#333" stroke-width="3.8"/>
<path d="M1662.73 397.00V407.2" stroke="#333" stroke-width="3.8"/>
<path d="M1704.61 397.00V407.2" stroke="#333" stroke-width="3.8"/>
<path d="M1746.50 397.00V407.2" stroke="#333" stroke-width="3.8"/>
<path d="M1083.0 381.30H1092.90" stroke="#333" stroke-width="3.8"/>
<text transform="translate(1075.1 390.5) scale(1 1.04)" text-anchor="end" font-size="31.7" fill="#4D4D4D" stroke="#4D4D4D" stroke-width="0.3">0.0</text>
<path d="M1083.0 318.82H1092.90" stroke="#333" stroke-width="3.8"/>
<text transform="translate(1075.1 328.02) scale(1 1.04)" text-anchor="end" font-size="31.7" fill="#4D4D4D" stroke="#4D4D4D" stroke-width="0.3">0.2</text>
<path d="M1083.0 256.34H1092.90" stroke="#333" stroke-width="3.8"/>
<text transform="translate(1075.1 265.54) scale(1 1.04)" text-anchor="end" font-size="31.7" fill="#4D4D4D" stroke="#4D4D4D" stroke-width="0.3">0.4</text>
<path d="M1083.0 193.86H1092.90" stroke="#333" stroke-width="3.8"/>
<text transform="translate(1075.1 203.06) scale(1 1.04)" text-anchor="end" font-size="31.7" fill="#4D4D4D" stroke="#4D4D4D" stroke-width="0.3">0.6</text>
<path d="M1083.0 131.38H1092.90" stroke="#333" stroke-width="3.8"/>
<text transform="translate(1075.1 140.58) scale(1 1.04)" text-anchor="end" font-size="31.7" fill="#4D4D4D" stroke="#4D4D4D" stroke-width="0.3">0.8</text>
<path d="M1083.0 68.90H1092.90" stroke="#333" stroke-width="3.8"/>
<text transform="translate(1075.1 78.1) scale(1 1.04)" text-anchor="end" font-size="31.7" fill="#4D4D4D" stroke="#4D4D4D" stroke-width="0.3">1.0</text>
<text transform="translate(1432 482.8) scale(1 1.04)" text-anchor="middle" font-size="39.0" fill="#000" stroke="#000" stroke-width="0.3">Singer (<tspan font-style="italic">N</tspan> = 16)</text>
<text transform="translate(1013.0 225) rotate(-90) scale(1 1.04)" text-anchor="middle" font-size="39.6" fill="#000" stroke="#000" stroke-width="0.3">Liking</text>
<text transform="translate(1092.5 33.0) scale(1 1.04)" font-size="42.6" font-weight="bold" fill="#000">B) Liking by singer</text>
</g>
<g id="panelA">
<text transform="translate(118 31.6) scale(1 1.04)" font-size="42.9" font-weight="bold" fill="#000">A) Stimuli</text>
<text transform="translate(205 111.9) scale(1 1.04)" font-size="36.45" font-style="italic" fill="#000" stroke="#000" stroke-width="0.2">Don‘t worry be happy</text>
<text transform="translate(205 228.9) scale(1 1.04)" font-size="36.45" font-style="italic" fill="#000" stroke="#000" stroke-width="0.2">Over the rainbow</text>
<text transform="translate(-0.5 241.8) scale(1 1.04)" font-size="29.8" fill="#000" stroke="#000" stroke-width="0.2"><tspan font-style="italic">N</tspan> = 96</text>
<g stroke="#000" stroke-width="1.9" fill="none" stroke-linejoin="miter"><path d="M22.7 164.9H34.5V190.3H22.7Z"/><path d="M34.5 164.6L50.8 150.9V205.7L34.5 190.6" stroke-linejoin="bevel"/><path d="M58 166Q68.6 177.5 58 188.8"/><path d="M63.4 160.3Q76.6 178 63.4 195.9"/></g>
<path d="M96 146.2H907.3" stroke="#C2C2C2" stroke-width="1.8"/>
<path d="M96 154.7H907.3" stroke="#1a1a1a" stroke-width="1.4"/>
<path d="M96 163.0H907.3" stroke="#1a1a1a" stroke-width="1.4"/>
<path d="M96 171.4H907.3" stroke="#1a1a1a" stroke-width="1.4"/>
<path d="M96 179.9H907.3" stroke="#0a0a0a" stroke-width="2.0"/>
<g transform="translate(0 0) translate(0 193) scale(1 1.0) translate(0 -193)" fill="none" stroke="#000" stroke-linecap="round" stroke-linejoin="round"><path d="M112.8 175.4C110.2 173.6 109.6 169 111.8 166.3C114 163.6 118.5 163.8 120.8 166.8C123.3 170 122.5 175 118.5 177.3C113.5 180.2 106 177.5 104.2 171C102.4 164.5 106.5 159.5 111 155C116 150 120.5 146 120.3 140.5C120.2 137.5 118.6 135.2 116.9 135.2C114.6 135.2 112.6 139 112.7 144C112.8 149 113.5 153 114.3 157L118.3 185C119.2 190 117.5 193.2 113.6 193.2C111.6 193.2 109.8 192.3 108.8 190.5" stroke-width="2.0"/><path d="M104.3 171.5C102.4 164.5 106.5 159.5 111 155C114 152 117 149.5 118.8 146.5" stroke-width="3.3"/><path d="M121.6 170.5C122 174 120.5 176.5 118 177.6" stroke-width="2.8"/><circle cx="110.7" cy="189.3" r="2.6" fill="#000" stroke-width="1.6"/></g>
<path d="M133.90 137.60v20.60M138.50 135.90v20.60" stroke="#000" stroke-width="1.3" fill="none"/>
<path d="M131.90 142.70l8.60 -1.60M131.90 152.70l8.60 -1.60" stroke="#000" stroke-width="2.5" fill="none"/>
<path d="M143.00 150.00v20.60M147.60 148.30v20.60" stroke="#000" stroke-width="1.3" fill="none"/>
<path d="M141.00 155.10l8.60 -1.60M141.00 165.10l8.60 -1.60" stroke="#000" stroke-width="2.5" fill="none"/>
<path d="M150.20 133.00v20.60M154.80 131.30v20.60" stroke="#000" stroke-width="1.3" fill="none"/>
<path d="M148.20 138.10l8.60 -1.60M148.20 148.10l8.60 -1.60" stroke="#000" stroke-width="2.5" fill="none"/>
<path d="M158.80 145.70v20.60M163.40 144.00v20.60" stroke="#000" stroke-width="1.3" fill="none"/>
<path d="M156.80 150.80l8.60 -1.60M156.80 160.80l8.60 -1.60" stroke="#000" stroke-width="2.5" fill="none"/>
<text transform="translate(181 163.3) scale(1.22 1)" text-anchor="middle" font-family='"Liberation Serif", "DejaVu Serif", serif' font-weight="bold" font-size="24.5" fill="#000">4</text>
<text transform="translate(181 180) scale(1.22 1)" text-anchor="middle" font-family='"Liberation Serif", "DejaVu Serif", serif' font-weight="bold" font-size="24.5" fill="#000">4</text>
<ellipse cx="210" cy="150.5" rx="5.0" ry="3.0" transform="rotate(-25 210 150.5)" fill="#fff" stroke="#000" stroke-width="1.5"/>
<path d="M204.9 151.5V180.4" stroke="#000" stroke-width="1.1"/>
<ellipse cx="294.4" cy="159.2" rx="5.6" ry="3.9" transform="rotate(-25 294.4 159.2)" fill="#000"/>
<path d="M289.9 160V186.6" stroke="#000" stroke-width="1.1"/>
<ellipse cx="348.3" cy="162.9" rx="5.6" ry="3.9" transform="rotate(-25 348.3 162.9)" fill="#000"/>
<path d="M343.3 164V190" stroke="#444" stroke-width="0.8"/>
<path d="M396.3 147.1V180.4" stroke="#000" stroke-width="1.3"/>
<ellipse cx="413.2" cy="159.3" rx="5.6" ry="3.9" transform="rotate(-25 413.2 159.3)" fill="#000"/>
<path d="M418.3 136V158" stroke="#000" stroke-width="1.1"/>
<path d="M417.8 134.7L456.8 143.1V147.0L417.8 138.6Z" fill="#000"/>
<ellipse cx="450.6" cy="172.1" rx="5.6" ry="3.9" transform="rotate(-25 450.6 172.1)" fill="#000"/>
<path d="M456.3 144V171" stroke="#000" stroke-width="1.1"/>
<path d="M452.6 179.4C459 186.4 481 186.4 487.2 179.4C481 184.6 459 184.6 452.6 179.4Z" fill="#000" stroke="#000" stroke-width="0.5"/>
<ellipse cx="489.7" cy="172.1" rx="5.6" ry="3.9" transform="rotate(-25 489.7 172.1)" fill="#000"/>
<path d="M494.7 143.1V171" stroke="#000" stroke-width="1.1"/>
<ellipse cx="541.6" cy="163.1" rx="5.6" ry="3.9" transform="rotate(-25 541.6 163.1)" fill="#000"/>
<path d="M546.4 137.5V162" stroke="#000" stroke-width="1.1"/>
<rect x="551.3" y="158" width="3.2" height="3.2" fill="#000"/>
<path d="M545.9 136.4L593.9 144.3V148.20000000000002L545.9 140.3Z" fill="#000"/>
<path d="M582.8 148.8L593.9 151.0V154.9L582.8 152.70000000000002Z" fill="#000"/>
<ellipse cx="588.1" cy="171.9" rx="5.6" ry="3.9" transform="rotate(-25 588.1 171.9)" fill="#000"/>
<path d="M593.3 145V171" stroke="#000" stroke-width="1.1"/>
<ellipse cx="611.4" cy="176.0" rx="5.6" ry="3.9" transform="rotate(-25 611.4 176.0)" fill="#000"/>
<path d="M617.0 146V175" stroke="#999" stroke-width="0.8"/>
<rect x="621.6" y="174.2" width="3.2" height="3.2" fill="#000"/>
<path d="M616.5 143.9L664.3 147.1V150.79999999999998L616.5 147.6Z" fill="#000"/>
<path d="M653 152.7L664.3 153.5V157.1L653 156.29999999999998Z" fill="#000"/>
<ellipse cx="658.7" cy="179.8" rx="5.6" ry="3.9" transform="rotate(-25 658.7 179.8)" fill="#000"/>
<path d="M663.8 148V179" stroke="#000" stroke-width="1.1"/>
<path d="M678.1 147.1V180.4" stroke="#000" stroke-width="1.3"/>
<ellipse cx="694.2" cy="176.1" rx="5.6" ry="3.9" transform="rotate(-25 694.2 176.1)" fill="#000"/>
<path d="M699.3 148V175" stroke="#000" stroke-width="1.1"/>
<rect x="704.2" y="174" width="3.2" height="3.2" fill="#000"/>
<path d="M698.8 147.1L767.3 143.9V147.6L698.8 150.79999999999998Z" fill="#000"/>
<path d="M755.8 151.6L767.3 151.0V154.5L755.8 155.1Z" fill="#000"/>
<ellipse cx="761.2" cy="171.9" rx="5.6" ry="3.9" transform="rotate(-25 761.2 171.9)" fill="#000"/>
<path d="M766.8 145V171" stroke="#000" stroke-width="1.1"/>
<ellipse cx="795.9" cy="176.1" rx="5.0" ry="3.0" transform="rotate(-25 795.9 176.1)" fill="#fff" stroke="#000" stroke-width="1.5"/>
<path d="M801.2 147.1V175" stroke="#000" stroke-width="1.1"/>
<rect x="806.2" y="174.4" width="2.2" height="3.2" fill="#000"/>
<path d="M898.9 147.1V180.7" stroke="#000" stroke-width="1.3"/>
<rect x="902.5" y="147.1" width="4.8" height="33.6" fill="#000"/>
<path d="M97 245.4H908.9" stroke="#0a0a0a" stroke-width="1.5"/>
<path d="M97 253.2H908.9" stroke="#0a0a0a" stroke-width="1.5"/>
<path d="M97 261.9H908.9" stroke="#0a0a0a" stroke-width="1.6"/>
<path d="M97 270.3H908.9" stroke="#0a0a0a" stroke-width="1.5"/>
<path d="M97 278.8H908.9" stroke="#000" stroke-width="2.1"/>
<g transform="translate(1.4 99.4) translate(0 193) scale(1 0.95) translate(0 -193)" fill="none" stroke="#000" stroke-linecap="round" stroke-linejoin="round"><path d="M112.8 175.4C110.2 173.6 109.6 169 111.8 166.3C114 163.6 118.5 163.8 120.8 166.8C123.3 170 122.5 175 118.5 177.3C113.5 180.2 106 177.5 104.2 171C102.4 164.5 106.5 159.5 111 155C116 150 120.5 146 120.3 140.5C120.2 137.5 118.6 135.2 116.9 135.2C114.6 135.2 112.6 139 112.7 144C112.8 149 113.5 153 114.3 157L118.3 185C119.2 190 117.5 193.2 113.6 193.2C111.6 193.2 109.8 192.3 108.8 190.5" stroke-width="1.8"/><path d="M104.3 171.5C102.4 164.5 106.5 159.5 111 155C114 152 117 149.5 118.8 146.5" stroke-width="3.1"/><path d="M121.6 170.5C122 174 120.5 176.5 118 177.6" stroke-width="2.6"/><circle cx="110.7" cy="189.3" r="2.6" fill="#000" stroke-width="1.6"/></g>
<path d="M135.28 238.44v18.95M139.52 236.88v18.95" stroke="#000" stroke-width="1.3" fill="none"/>
<path d="M133.44 243.14l7.91 -1.47M133.44 252.34l7.91 -1.47" stroke="#000" stroke-width="2.5" fill="none"/>
<path d="M143.18 250.44v18.95M147.42 248.88v18.95" stroke="#000" stroke-width="1.3" fill="none"/>
<path d="M141.34 255.14l7.91 -1.47M141.34 264.34l7.91 -1.47" stroke="#000" stroke-width="2.5" fill="none"/>
<path d="M152.78 235.44v18.95M157.02 233.88v18.95" stroke="#000" stroke-width="1.3" fill="none"/>
<path d="M150.94 240.14l7.91 -1.47M150.94 249.34l7.91 -1.47" stroke="#000" stroke-width="2.5" fill="none"/>
<path d="M160.08 245.94v18.95M164.32 244.38v18.95" stroke="#000" stroke-width="1.3" fill="none"/>
<path d="M158.24 250.64l7.91 -1.47M158.24 259.84l7.91 -1.47" stroke="#000" stroke-width="2.5" fill="none"/>
<text transform="translate(182.3 262.2) scale(1.15 1)" text-anchor="middle" font-family='"Liberation Serif", "DejaVu Serif", serif' font-weight="bold" font-size="24.5" fill="#000">4</text>
<text transform="translate(182.3 278.9) scale(1.15 1)" text-anchor="middle" font-family='"Liberation Serif", "DejaVu Serif", serif' font-weight="bold" font-size="24.5" fill="#000">4</text>
<ellipse cx="211.3" cy="279.0" rx="4.4" ry="2.5" transform="rotate(-25 211.3 279.0)" fill="#fff" stroke="#000" stroke-width="1.5"/>
<path d="M216.4 249.3V278" stroke="#000" stroke-width="1.3"/>
<ellipse cx="370.9" cy="249.3" rx="4.4" ry="2.5" transform="rotate(-25 370.9 249.3)" fill="#fff" stroke="#000" stroke-width="1.5"/>
<path d="M366.0 250.5V278.7" stroke="#000" stroke-width="1.4"/>
<path d="M525.4 245.4V278.7" stroke="#000" stroke-width="1.5"/>
<ellipse cx="541.9" cy="253.8" rx="5.0" ry="4.0" transform="rotate(-22 541.9 253.8)" fill="#000"/>
<path d="M536.8 255V282.4" stroke="#000" stroke-width="1.0"/>
<ellipse cx="627.7" cy="262.1" rx="5.0" ry="4.0" transform="rotate(-22 627.7 262.1)" fill="#000"/>
<path d="M622.9 263V289" stroke="#000" stroke-width="1.5"/>
<path d="M622.2 285.8L677.1 283.0V286.9L622.2 289.7Z" fill="#000"/>
<ellipse cx="680.9" cy="257.8" rx="5.0" ry="4.0" transform="rotate(-22 680.9 257.8)" fill="#000"/>
<path d="M676.4 259V286" stroke="#000" stroke-width="1.5"/>
<ellipse cx="734.1" cy="253.8" rx="5.0" ry="4.0" transform="rotate(-22 734.1 253.8)" fill="#000"/>
<path d="M730.0 255V282.4" stroke="#888" stroke-width="1.2"/>
<ellipse cx="819.7" cy="249.3" rx="5.0" ry="4.0" transform="rotate(-22 819.7 249.3)" fill="#000"/>
<path d="M815.2 250.5V278.7" stroke="#000" stroke-width="1.6"/>
<path d="M899.9 245.4V279.6" stroke="#000" stroke-width="1.4"/>
<rect x="902.1" y="244.9" width="6.8" height="34.7" fill="#000"/>
</g>
</svg>
</body>
</html>
